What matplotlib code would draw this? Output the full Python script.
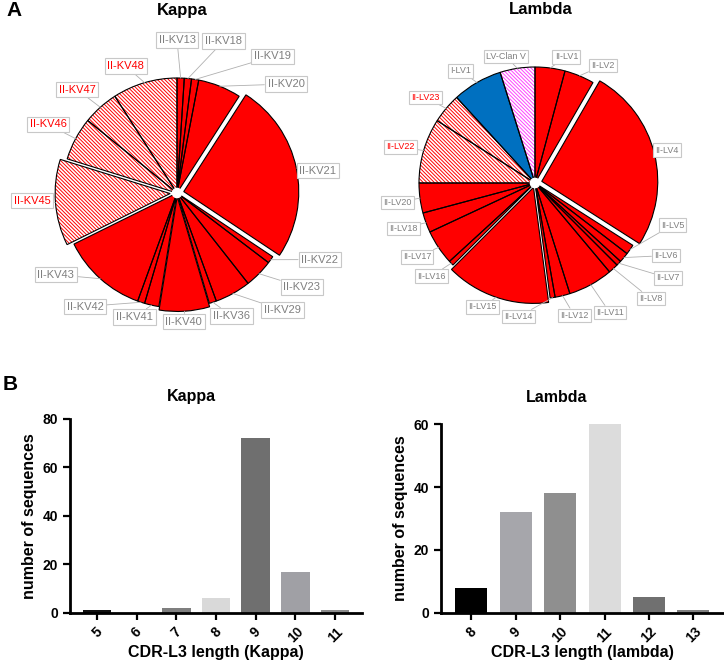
import matplotlib.pyplot as plt
import numpy as np

W, H = 724, 668

# ---- data: V-gene usage (number of sequences per gene) ----
kappa_genes = ['II-KV13', 'II-KV18', 'II-KV19', 'II-KV20', 'II-KV21', 'II-KV22', 'II-KV23',
               'II-KV29', 'II-KV36', 'II-KV40', 'II-KV41', 'II-KV42', 'II-KV43', 'II-KV45',
               'II-KV46', 'II-KV47', 'II-KV48']
kappa_counts = [1, 1, 1, 6, 25, 1, 4, 5, 1, 7, 2, 1, 12, 12, 6, 5, 9]
kappa_hatched = ['II-KV45', 'II-KV46', 'II-KV47', 'II-KV48']

lambda_genes = ['II-LV1', 'II-LV2', 'II-LV4', 'II-LV5', 'II-LV6', 'II-LV7', 'II-LV8', 'II-LV11',
                'II-LV12', 'II-LV14', 'II-LV15', 'II-LV16', 'II-LV17', 'II-LV18', 'II-LV20',
                'II-LV22', 'II-LV23', 'I-LV1', 'LV-Clan V']
lambda_counts = [6, 6, 37, 2, 2, 1, 2, 9, 3, 1, 21, 1, 7, 4, 6, 13, 6, 10, 7]
lambda_hatched = ['II-LV22', 'II-LV23']

# ---- data: CDR-L3 length distributions ----
kappa_len = ['5', '6', '7', '8', '9', '10', '11']
kappa_len_n = [1, 0, 2, 6, 72, 17, 1]
lambda_len = ['8', '9', '10', '11', '12', '13']
lambda_len_n = [8, 32, 38, 60, 5, 1]

# ---- styling / layout ----
RED = '#ff0000'
HATCH = '\\' * 9
plt.rcParams['hatch.linewidth'] = 0.7
kappa_explode = {'II-KV21': 0.06, 'II-KV45': 0.06, 'II-KV40': 0.03}
lambda_explode = {'II-LV4': 0.06, 'II-LV15': 0.04}
# label placement: (clockwise angle from 12 o'clock in degrees, radius)
kappa_label_pos = [(0, 1.33), (17, 1.38), (35, 1.45), (45, 1.34), (81, 1.24), (115, 1.37),
                   (127, 1.36), (138, 1.37), (156, 1.17), (177, 1.12), (199, 1.14),
                   (219, 1.27), (236, 1.27), (267, 1.26), (298, 1.27), (316, 1.25), (338, 1.19)]
lambda_label_pos = [(14, 1.12), (30, 1.17), (76, 1.17), (107, 1.24), (119, 1.29), (125.5, 1.41),
                    (135, 1.41), (150, 1.29), (163.5, 1.19), (187, 1.16), (203, 1.16),
                    (228, 1.2), (238, 1.2), (251, 1.2), (262, 1.2), (285, 1.2), (308, 1.2),
                    (326.5, 1.16), (347, 1.12)]
kappa_bar_colors = ['#111111', '#555555', '#7f7f7f', '#d9d9d9', '#6f6f6f', '#a0a0a5', '#8c8c8c']
lambda_bar_colors = ['#000000', '#a6a6ab', '#8f8f8f', '#dcdcdc', '#707070', '#808080']

fig = plt.figure(figsize=(W / 100, H / 100), dpi=100)


def px_axes(cx, cy, halfw, halfh, r):
    ax = fig.add_axes([(cx - halfw) / W, 1 - (cy + halfh) / H, 2 * halfw / W, 2 * halfh / H])
    return ax, (halfw / r, halfh / r)


def draw_pie(ax, lims, genes, counts, hatched, explode_map, label_pos, special, fsize):
    explode = [explode_map.get(g, 0) for g in genes]
    faces, hatch_cols, hatches, txtcols = [], [], [], []
    for g in genes:
        if g in special:
            faces.append(special[g][0]); hatch_cols.append(special[g][1])
            hatches.append(special[g][2]); txtcols.append('#7f7f7f')
        elif g in hatched:
            faces.append('white'); hatch_cols.append(RED); hatches.append(HATCH)
            txtcols.append(RED)
        else:
            faces.append(RED); hatch_cols.append('black'); hatches.append(None)
            txtcols.append('#7f7f7f')
    # fill layer (hatch takes the edge colour)
    wedges, _ = ax.pie(counts, startangle=90, counterclock=False, explode=explode,
                       colors=faces, wedgeprops=dict(linewidth=0))
    for w, hc, h in zip(wedges, hatch_cols, hatches):
        if h:
            w.set_hatch(h)
            w.set_edgecolor(hc)
            w.set_linewidth(0)
    # outline layer
    ax.pie(counts, startangle=90, counterclock=False, explode=explode,
           colors=['none'] * len(counts),
           wedgeprops=dict(linewidth=0.8, edgecolor='black', fill=False))
    # white hub in the middle
    ax.add_patch(plt.Circle((0, 0), 0.04, color='white', zorder=5))

    total = sum(counts)
    cum = np.cumsum([0] + list(counts))
    for i, g in enumerate(genes):
        mid = np.deg2rad((cum[i] + cum[i + 1]) / 2 / total * 360)
        e = explode[i]
        anchor = ((1 + e) * np.sin(mid), (1 + e) * np.cos(mid))
        ang, rr = label_pos[i]
        a = np.deg2rad(ang)
        ax.annotate(g, xy=anchor, xytext=(rr * np.sin(a), rr * np.cos(a)),
                    ha='center', va='center', fontsize=fsize, color=txtcols[i],
                    family='Liberation Sans',
                    bbox=dict(boxstyle='square,pad=0.25', fc='white', ec='#c8c8c8', lw=0.8),
                    arrowprops=dict(arrowstyle='-', color='#b0b0b0', lw=0.6,
                                    shrinkA=0, shrinkB=0))
    ax.set_xlim(-lims[0], lims[0])
    ax.set_ylim(-lims[1], lims[1])
    ax.set_aspect('auto')
    ax.axis('off')


ax1, l1 = px_axes(177, 193, 177, 170, 115)
draw_pie(ax1, l1, kappa_genes, kappa_counts, kappa_hatched, kappa_explode,
         kappa_label_pos, {}, 8)

ax2, l2 = px_axes(535, 183, 185, 165, 116)
draw_pie(ax2, l2, lambda_genes, lambda_counts, lambda_hatched, lambda_explode,
         lambda_label_pos,
         {'I-LV1': ('#0070c0', 'black', None),
          'LV-Clan V': ('white', '#ff44ff', HATCH)}, 6.5)

# ---- bar charts ----
def draw_bars(rect, cats, vals, cols, ymax, xlabel):
    ax = fig.add_axes(rect)
    x = np.arange(len(cats))
    ax.bar(x, vals, width=0.72, color=cols)
    ax.set_xlim(-0.68, len(cats) - 1 + 0.68)
    ax.set_ylim(0, ymax)
    ax.set_yticks(np.arange(0, ymax + 1, 20))
    ax.set_xticks(x)
    ax.set_xticklabels(cats, rotation=45)
    for s in ['top', 'right']:
        ax.spines[s].set_visible(False)
    for s in ['left', 'bottom']:
        ax.spines[s].set_linewidth(2)
    ax.tick_params(width=1.6, length=5, labelsize=10)
    for t in ax.get_xticklabels() + ax.get_yticklabels():
        t.set_fontweight('bold')
        t.set_family('Liberation Sans')
    ax.set_ylabel('number of sequences', fontsize=11.5, fontweight='bold',
                  family='Liberation Sans', labelpad=4)
    ax.set_xlabel(xlabel, fontsize=11.5, fontweight='bold', family='Liberation Sans',
                  labelpad=0)
    return ax


draw_bars([70 / W, 1 - 612.7 / H, 292 / W, 193.7 / H], kappa_len, kappa_len_n,
          kappa_bar_colors, 80, 'CDR-L3 length (Kappa)')
draw_bars([441 / W, 1 - 612.7 / H, 282.7 / W, 188.3 / H], lambda_len, lambda_len_n,
          lambda_bar_colors, 60, 'CDR-L3 length (lambda)')

# ---- titles / panel letters ----
def ftext(x, y, s, **kw):
    fig.text(x / W, 1 - y / H, s, ha='center', va='center', **kw)


ftext(14, 11, 'A', fontsize=15, fontweight='bold', family='Liberation Sans')
ftext(182, 11, 'Kappa', fontsize=12, fontweight='bold', family='Liberation Sans')
ftext(541, 10, 'Lambda', fontsize=12, fontweight='bold', family='Liberation Sans')
ftext(10, 385, 'B', fontsize=15, fontweight='bold', family='Liberation Sans')
ftext(191, 397, 'Kappa', fontsize=11.5, fontweight='bold',
      family=['Liberation Sans Narrow', 'Liberation Sans'])
ftext(557, 397, 'Lambda', fontsize=11.5, fontweight='bold',
      family=['Liberation Sans Narrow', 'Liberation Sans'])

fig.savefig('out.png', dpi=100)
